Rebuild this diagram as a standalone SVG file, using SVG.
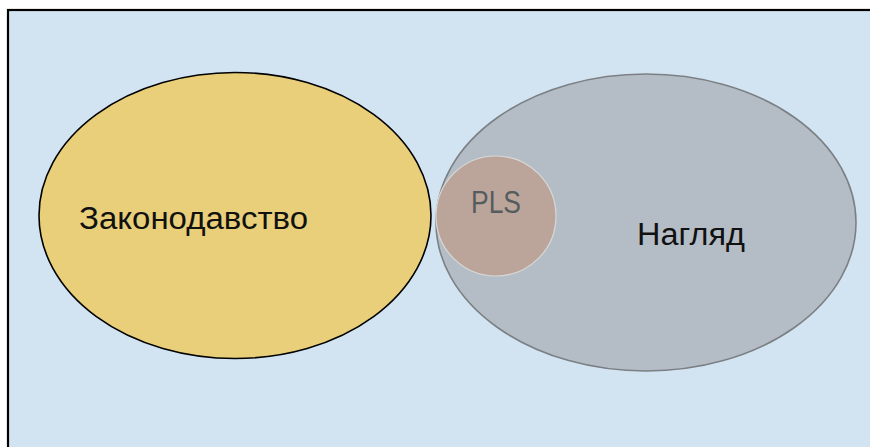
<svg xmlns="http://www.w3.org/2000/svg" width="870" height="447" viewBox="0 0 870 447">
  <style>
    .label { font-family: "Liberation Sans", Arial, sans-serif; font-size: 31px; fill: #111111; }
    .small { fill: #555c60; }
  </style>
  <!-- page background -->
  <rect x="0" y="0" width="870" height="447" fill="#ffffff"/>
  <rect x="8" y="10" width="880" height="450" fill="#d2e4f2" stroke="#000000" stroke-width="2.2"/>

  <g id="legislation">
    <ellipse cx="235" cy="215.5" rx="196" ry="143" fill="#e9cf7a" stroke="#000000" stroke-width="1.6"/>
    <text class="label" x="79" y="229" textLength="229" lengthAdjust="spacingAndGlyphs">Законодавство</text>
  </g>

  <g id="supervision">
    <ellipse cx="646" cy="222.5" rx="210" ry="148.5" fill="#b4bdc6" stroke="#7c8084" stroke-width="1.6"/>
    <text class="label" x="637" y="245" textLength="108" lengthAdjust="spacingAndGlyphs">Нагляд</text>
  </g>

  <g id="pls">
    <circle cx="496" cy="216" r="60" fill="#bba59a" stroke="#d8d8d8" stroke-width="1.2"/>
    <text class="label small" x="471" y="213" textLength="50" lengthAdjust="spacingAndGlyphs">PLS</text>
  </g>

  <g id="connectors"/>
</svg>
